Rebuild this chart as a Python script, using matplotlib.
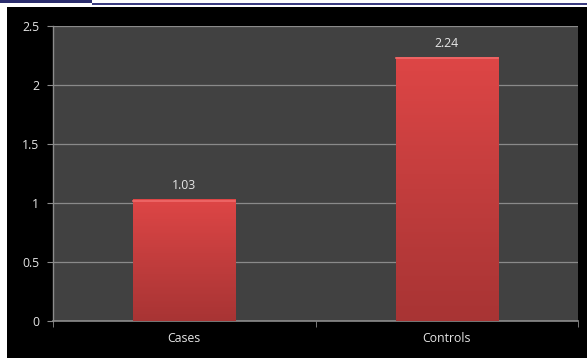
import numpy as np
import matplotlib
matplotlib.use('Agg')
import matplotlib.pyplot as plt
from matplotlib.patches import Rectangle
from matplotlib.colors import LinearSegmentedColormap

categories = ['Cases', 'Controls']
values = [1.03, 2.24]
value_labels = ['1.03', '2.24']
yticks = [0, 0.5, 1, 1.5, 2, 2.5]
ytick_labels = ['0', '0.5', '1', '1.5', '2', '2.5']

plt.rcParams['font.family'] = ['Open Sans', 'DejaVu Sans']
txt = '#e6e6e6'
fs = 8.8

fig = plt.figure(figsize=(5.87, 3.58), dpi=100)
fig.patch.set_facecolor('white')

# black panel behind the chart, with the slide strip on top
fig.patches.append(Rectangle((7/587, 0), 1 - 7/587, 1 - 7/358, transform=fig.transFigure,
                             facecolor='black', edgecolor='none', zorder=-10))
fig.patches.append(Rectangle((0, 1 - 3/358), 92/587, 3/358, transform=fig.transFigure,
                             facecolor='#2b2d6e', edgecolor='none', zorder=-10))
fig.patches.append(Rectangle((92/587, 1 - 4.5/358), 1 - 92/587, 1.2/358, transform=fig.transFigure,
                             facecolor='#3a3c80', edgecolor='none', zorder=-10))

ax = fig.add_axes([53/587, 1 - 321/358, 525/587, 295/358])
ax.set_facecolor('#414141')

x = np.arange(len(categories))
bars = ax.bar(x, values, width=0.39, color='#cc4040', edgecolor='none', zorder=2)

# vertical red gradient on each bar
cmap = LinearSegmentedColormap.from_list('redgrad', ['#a83434', '#c23d3d', '#de4646'])
grad = np.linspace(0, 1, 256).reshape(-1, 1)
for b in bars:
    x0, y0 = b.get_x(), b.get_y()
    w, h = b.get_width(), b.get_height()
    im = ax.imshow(grad, cmap=cmap, origin='lower', aspect='auto',
                   extent=[x0, x0 + w, y0, y0 + h], zorder=3)
    im.set_clip_path(b)
    # light top edge
    ax.plot([x0, x0 + w], [y0 + h - 0.012, y0 + h - 0.012], color='#f06a6a', lw=1.2, zorder=4)

for xi, v, lab in zip(x, values, value_labels):
    ax.text(xi, v + 0.06, lab, ha='center', va='bottom', color=txt, fontsize=fs, zorder=5)

ax.set_xlim(-0.5, 1.5)
ax.set_ylim(0, 2.5)
ax.set_yticks(yticks)
ax.set_yticklabels(ytick_labels)
ax.set_xticks(x)
ax.set_xticklabels(categories)
ax.set_xticks([-0.5, 0.5, 1.5], minor=True)
ax.tick_params(axis='x', which='major', length=0, pad=8, colors=txt, labelsize=fs)
ax.tick_params(axis='x', which='minor', length=4, color='#8c8c8c')
ax.tick_params(axis='y', length=4, color='#8c8c8c', colors=txt, labelsize=fs, pad=6)
ax.tick_params(axis='y', color='#8c8c8c')

ax.yaxis.grid(True, color='#8a8a8a', lw=0.9, zorder=1)
ax.set_axisbelow(True)
for s in ['top', 'right']:
    ax.spines[s].set_visible(False)
ax.spines['left'].set_color('#8c8c8c')
ax.spines['bottom'].set_color('#8c8c8c')
ax.spines['left'].set_linewidth(1.0)
ax.spines['bottom'].set_linewidth(1.2)

fig.savefig('out.png', dpi=100, facecolor=fig.get_facecolor())
